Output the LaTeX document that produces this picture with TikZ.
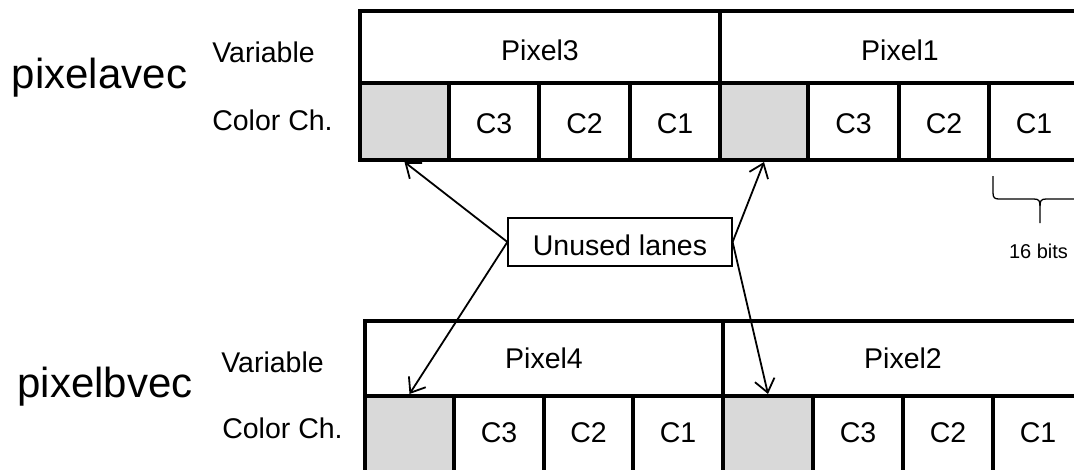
\documentclass[tikz,border=0pt]{standalone}
\usepackage{fontspec}
\setmainfont{Liberation Sans}
\usetikzlibrary{arrows.meta}
\definecolor{lanegray}{RGB}{217,217,217}
\begin{document}
\begin{tikzpicture}[x=1pt,y=-1pt,
  cell/.style={draw, line width=4pt, inner sep=0pt, fill=white,
               font=\fontsize{28.5}{30}\selectfont, text depth=0pt},
  hdrA/.style={cell, minimum height=72pt, text height=26pt},
  chA/.style={cell, minimum height=77pt, text height=23pt},
  hdrB/.style={cell, minimum height=75pt, text height=19pt},
  chB/.style={cell, minimum height=76pt, text height=16pt},
  unused/.style={fill=lanegray},
  rowlabel/.style={anchor=base, inner sep=0pt, font=\fontsize{28.5}{30}\selectfont},
  veclabel/.style={anchor=base, inner sep=0pt, font=\fontsize{42}{44}\selectfont},
  callout/.style={draw, line width=1.2pt, inner sep=0pt, minimum width=224pt,
                  minimum height=48pt, text height=26pt, text depth=0pt,
                  font=\fontsize{28.5}{30}\selectfont},
  pointer/.style={line width=1.8pt, -{Straight Barb[length=13pt,width=20pt]}}
]
\useasboundingbox (0,0) rectangle (1074,469);
\clip (0,0) rectangle (1074,469);

% pixelavec: two pixels, each with an unused lane and three channels
\node[hdrA, minimum width=360pt] (p3) at (540,47) {Pixel3};
\node[hdrA, minimum width=360pt] (p1) at (900,47) {Pixel1};
\node[chA, unused, minimum width=89pt] (a0) at (404.5,121.5) {};
\node[chA, minimum width=90pt] (a1) at (494,121.5) {C3};
\node[chA, minimum width=91pt] (a2) at (584.5,121.5) {C2};
\node[chA, minimum width=90pt] (a3) at (675,121.5) {C1};
\node[chA, unused, minimum width=88pt] (a4) at (764,121.5) {};
\node[chA, minimum width=91pt] (a5) at (853.5,121.5) {C3};
\node[chA, minimum width=90pt] (a6) at (944,121.5) {C2};
\node[chA, minimum width=90pt] (a7) at (1034,121.5) {C1};

% pixelbvec
\node[hdrB, minimum width=358pt] (p4) at (544,358.5) {Pixel4};
\node[hdrB, minimum width=360pt] (p2) at (903,358.5) {Pixel2};
\node[chB, unused, minimum width=89pt] (b0) at (409.5,434) {};
\node[chB, minimum width=90pt] (b1) at (499,434) {C3};
\node[chB, minimum width=89pt] (b2) at (588.5,434) {C2};
\node[chB, minimum width=90pt] (b3) at (678,434) {C1};
\node[chB, unused, minimum width=90pt] (b4) at (768,434) {};
\node[chB, minimum width=90pt] (b5) at (858,434) {C3};
\node[chB, minimum width=90pt] (b6) at (948,434) {C2};
\node[chB, minimum width=90pt] (b7) at (1038,434) {C1};

% row and vector labels
\node[veclabel] (va) at (99.5,88) {pixelavec};
\node[veclabel] (vb) at (105,397) {pixelbvec};
\node[rowlabel] (varA) at (263.5,62) {Variable};
\node[rowlabel] (chlA) at (272.5,130) {Color Ch.};
\node[rowlabel] (varB) at (272.5,372) {Variable};
\node[rowlabel] (chlB) at (282.5,438) {Color Ch.};

% callout for the unused lanes
\node[callout] (un) at (620,242) {Unused lanes};
\draw[pointer] (un.west) -- (a0.south);
\draw[pointer] (un.west) -- (b0.north);
\draw[pointer] (un.east) -- (a4.south);
\draw[pointer] (un.east) -- (b4.north);

% brace under one channel
\draw[line width=1.3pt] (993,176) -- (993,193) .. controls (993,198) and (995,199) .. (999,199)
  -- (1034,199) .. controls (1039,199) and (1040,201) .. (1040,206) -- (1040,223);
\draw[line width=1.3pt] (1040,206) .. controls (1040,201) and (1041,199) .. (1046,199) -- (1080,199);
\node[anchor=base, inner sep=0pt, font=\fontsize{20}{22}\selectfont] (bits) at (1038.5,258) {16 bits};
\end{tikzpicture}
\end{document}
